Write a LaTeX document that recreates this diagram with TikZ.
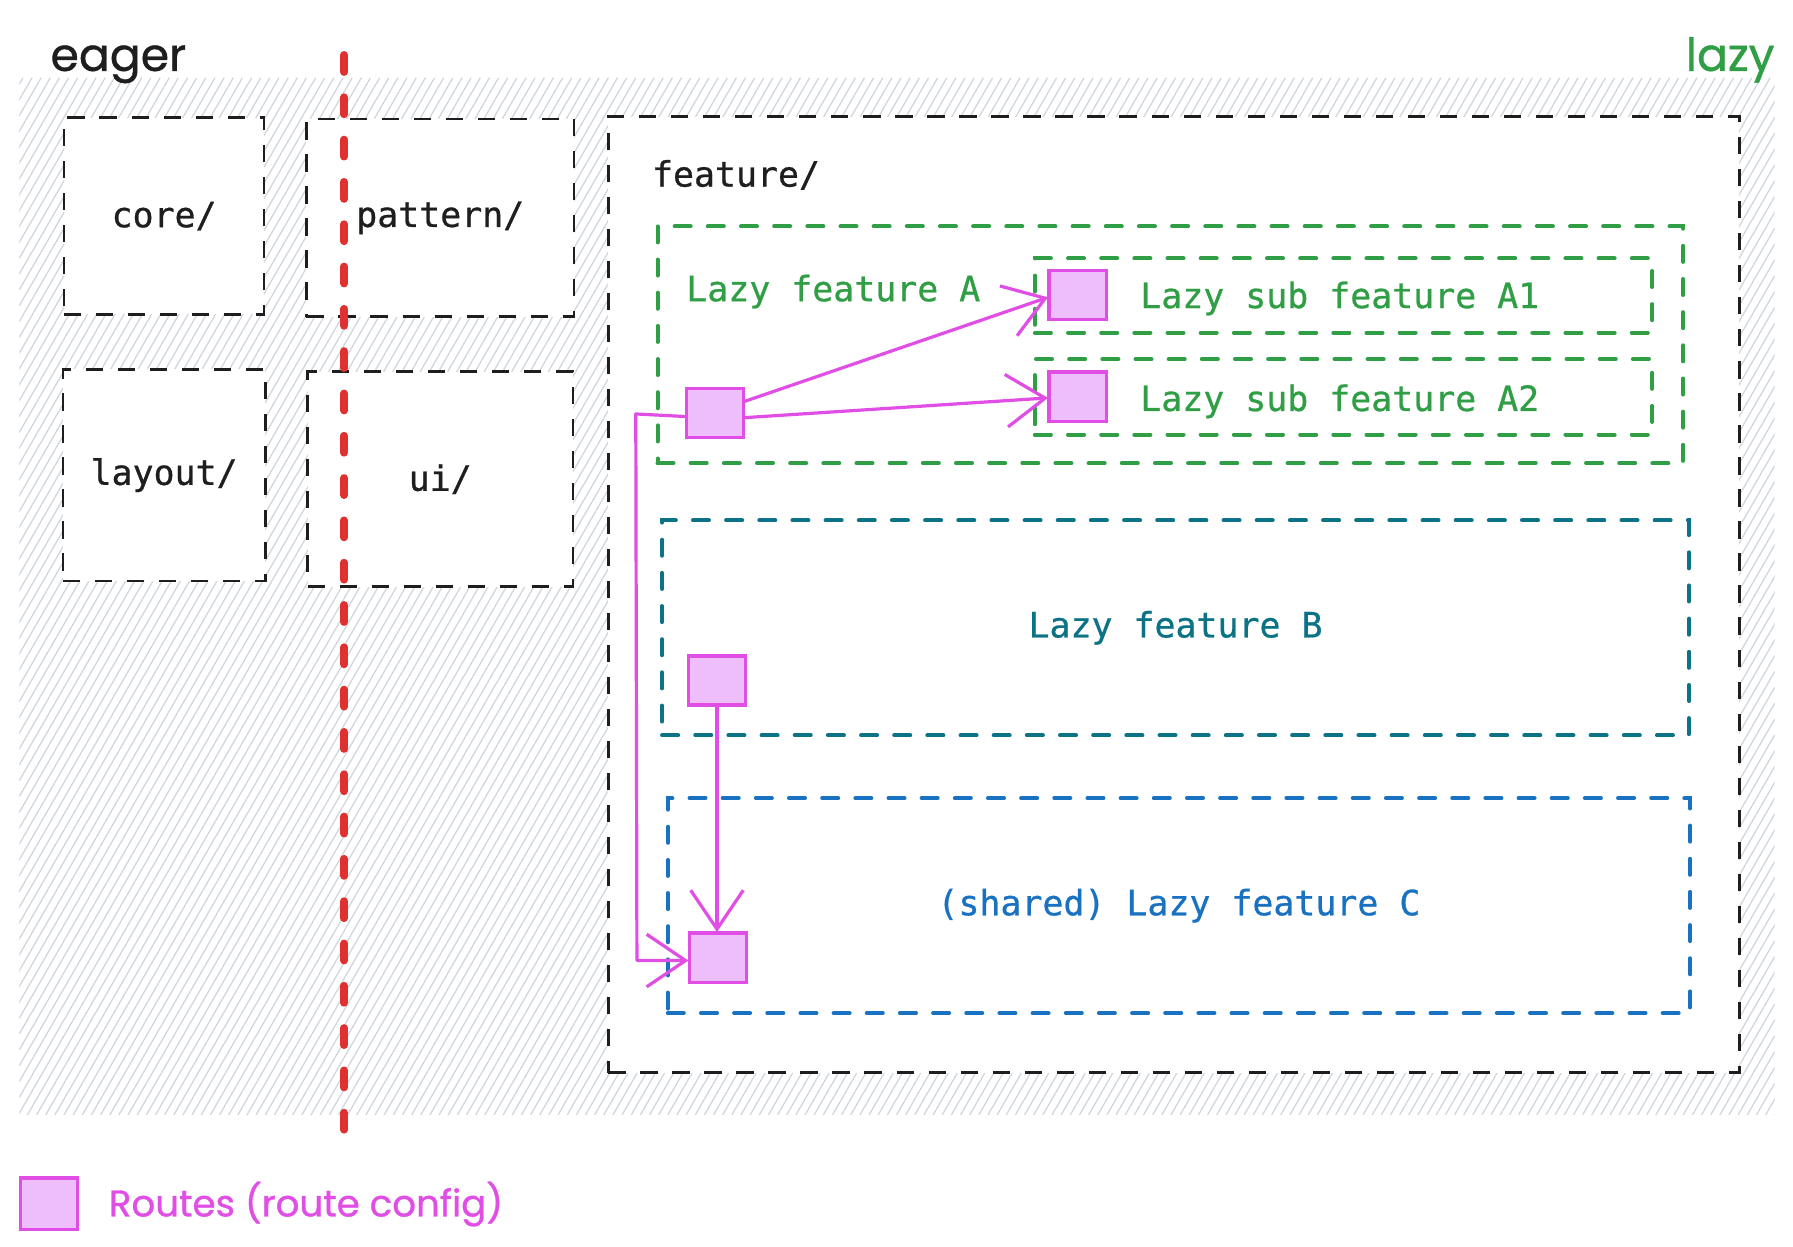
\documentclass[tikz,border=0pt]{standalone}
\usepackage{fontspec}
\setmonofont{DejaVu Sans Mono}[FakeBold=0.7]
\newfontfamily\handfont{Poppins}[FakeBold=0.8]
\usetikzlibrary{arrows.meta,calc}
\definecolor{inkc}{HTML}{1E1E1E}
\definecolor{greenc}{HTML}{2F9E44}
\definecolor{tealc}{HTML}{0C7285}
\definecolor{bluec}{HTML}{1971C2}
\definecolor{redc}{HTML}{E03131}
\definecolor{routec}{HTML}{E04EE6}
\definecolor{routefill}{HTML}{EEBEFA}
\definecolor{hatchc}{RGB}{208,214,220}
\tikzset{
  mono/.style={font=\fontsize{30.5}{36}\selectfont\ttfamily},
  hand/.style={font=\handfont\fontsize{40}{48}\selectfont},
  blackbox/.style={draw=inkc, fill=white, line width=2.3pt, dash pattern=on 15pt off 13pt,
    inner sep=0pt, outer sep=0pt, mono, text=inkc},
  colbox/.style={draw=#1, line width=3.5pt, line cap=round, dash pattern=on 14pt off 15pt,
    inner sep=0pt, outer sep=0pt, mono, text=#1},
  routebox/.style={draw=routec, fill=routefill, line width=3pt, inner sep=0pt, outer sep=0pt,
    minimum width=50pt, minimum height=43pt},
  routearrow/.style={draw=routec, line width=2.8pt, line join=round, line cap=round,
    -{Straight Barb[length=34pt,width=46pt,line width=2.8pt]}},
  hatchline/.style={draw=hatchc, line width=1.1pt},
  lbl/.style={mono, anchor=west, inner sep=0pt}
}
\begin{document}
\begin{tikzpicture}[x=1pt,y=-1pt]
\useasboundingbox (0,0) rectangle (1568,1090);
\fill[white] (0,0) rectangle (1568,1090);
% hatched area
\begin{scope}
\clip (17,68) rectangle (1552,975);
\foreach \i in {-560,-552,...,1560} \draw[hatchline] (\i,975) -- (\i+524,68);
\end{scope}
% titles
\node[hand, text=inkc, anchor=base west, inner sep=0pt] (eager) at (44,62) {eager};
\node[hand, text=greenc, anchor=base east, inner sep=0pt] (lazy) at (1552,62) {lazy};
% eager boxes
\node[blackbox, minimum width=175pt, minimum height=172pt] (core) at (143.5,189) {core/};
\node[blackbox, minimum width=234pt, minimum height=173pt] (pattern) at (385,190.5) {pattern/};
\node[blackbox, minimum width=177pt, minimum height=185pt] (layout) at (143.5,415.5) {layout/};
\node[blackbox, minimum width=232pt, minimum height=188pt] (ui) at (385,419) {ui/};
% feature box
\node[blackbox, minimum width=989pt, minimum height=836pt] (feature) at (1026.5,520) {};
\node[lbl, text=inkc] (featurelbl) at (570,153) {feature/};
% lazy feature A
\node[colbox=greenc, minimum width=897pt, minimum height=207pt] (fa) at (1023.5,301.5) {};
\node[lbl, text=greenc] (falbl) at (600,255) {Lazy feature A};
\node[colbox=greenc, minimum width=540pt, minimum height=65pt] (fa1) at (1175,258.5) {};
\node[lbl, text=greenc] (fa1lbl) at (997,261) {Lazy sub feature A1};
\node[colbox=greenc, minimum width=540pt, minimum height=66pt] (fa2) at (1175,347) {};
\node[lbl, text=greenc] (fa2lbl) at (997,351) {Lazy sub feature A2};
% lazy feature B and C
\node[colbox=tealc, minimum width=898pt, minimum height=188pt] (fb) at (1028,549) {Lazy feature B};
\node[colbox=bluec, minimum width=894pt, minimum height=188pt] (fc) at (1031,792) {(shared) Lazy feature C};
% red divider
\coordinate (redtop) at (301,48);
\coordinate (redbot) at (301,990);
\draw[redc, line width=6.7pt, line cap=round, dash pattern=on 15pt off 22pt] (redtop) -- (redbot);
% routes
\node[routebox] (ra) at (625.3,361.3) {};
\node[routebox] (ra1) at (942.5,258) {};
\node[routebox] (ra2) at (942.5,347) {};
\node[routebox] (rb) at (627,595) {};
\node[routebox] (rc) at (628,837.5) {};
% connectors
\draw[routearrow] ($(ra.east)+(0,-10)$) -- ($(ra1.west)+(-1,2)$);
\draw[routearrow] ($(ra.east)+(0,4)$) -- ($(ra2.west)+(-1,1)$);
\coordinate (bendtop) at (556,362);
\coordinate (bendbot) at (557,840);
\draw[routearrow] ($(ra.west)+(0,3)$) -- (bendtop) -- (bendbot) -- ($(rc.west)+(-1,2.5)$);
\draw[routearrow] (rb.south) -- ($(rc.north)+(-1,-1)$);
% legend
\node[routebox, minimum height=45pt] (legend) at (43,1052.5) {};
\node[hand, text=routec, anchor=west, inner sep=0pt, font=\handfont\fontsize{32.5}{38}\selectfont] (legendlbl) at (95,1053) {Routes (route config)};
\end{tikzpicture}
\end{document}
